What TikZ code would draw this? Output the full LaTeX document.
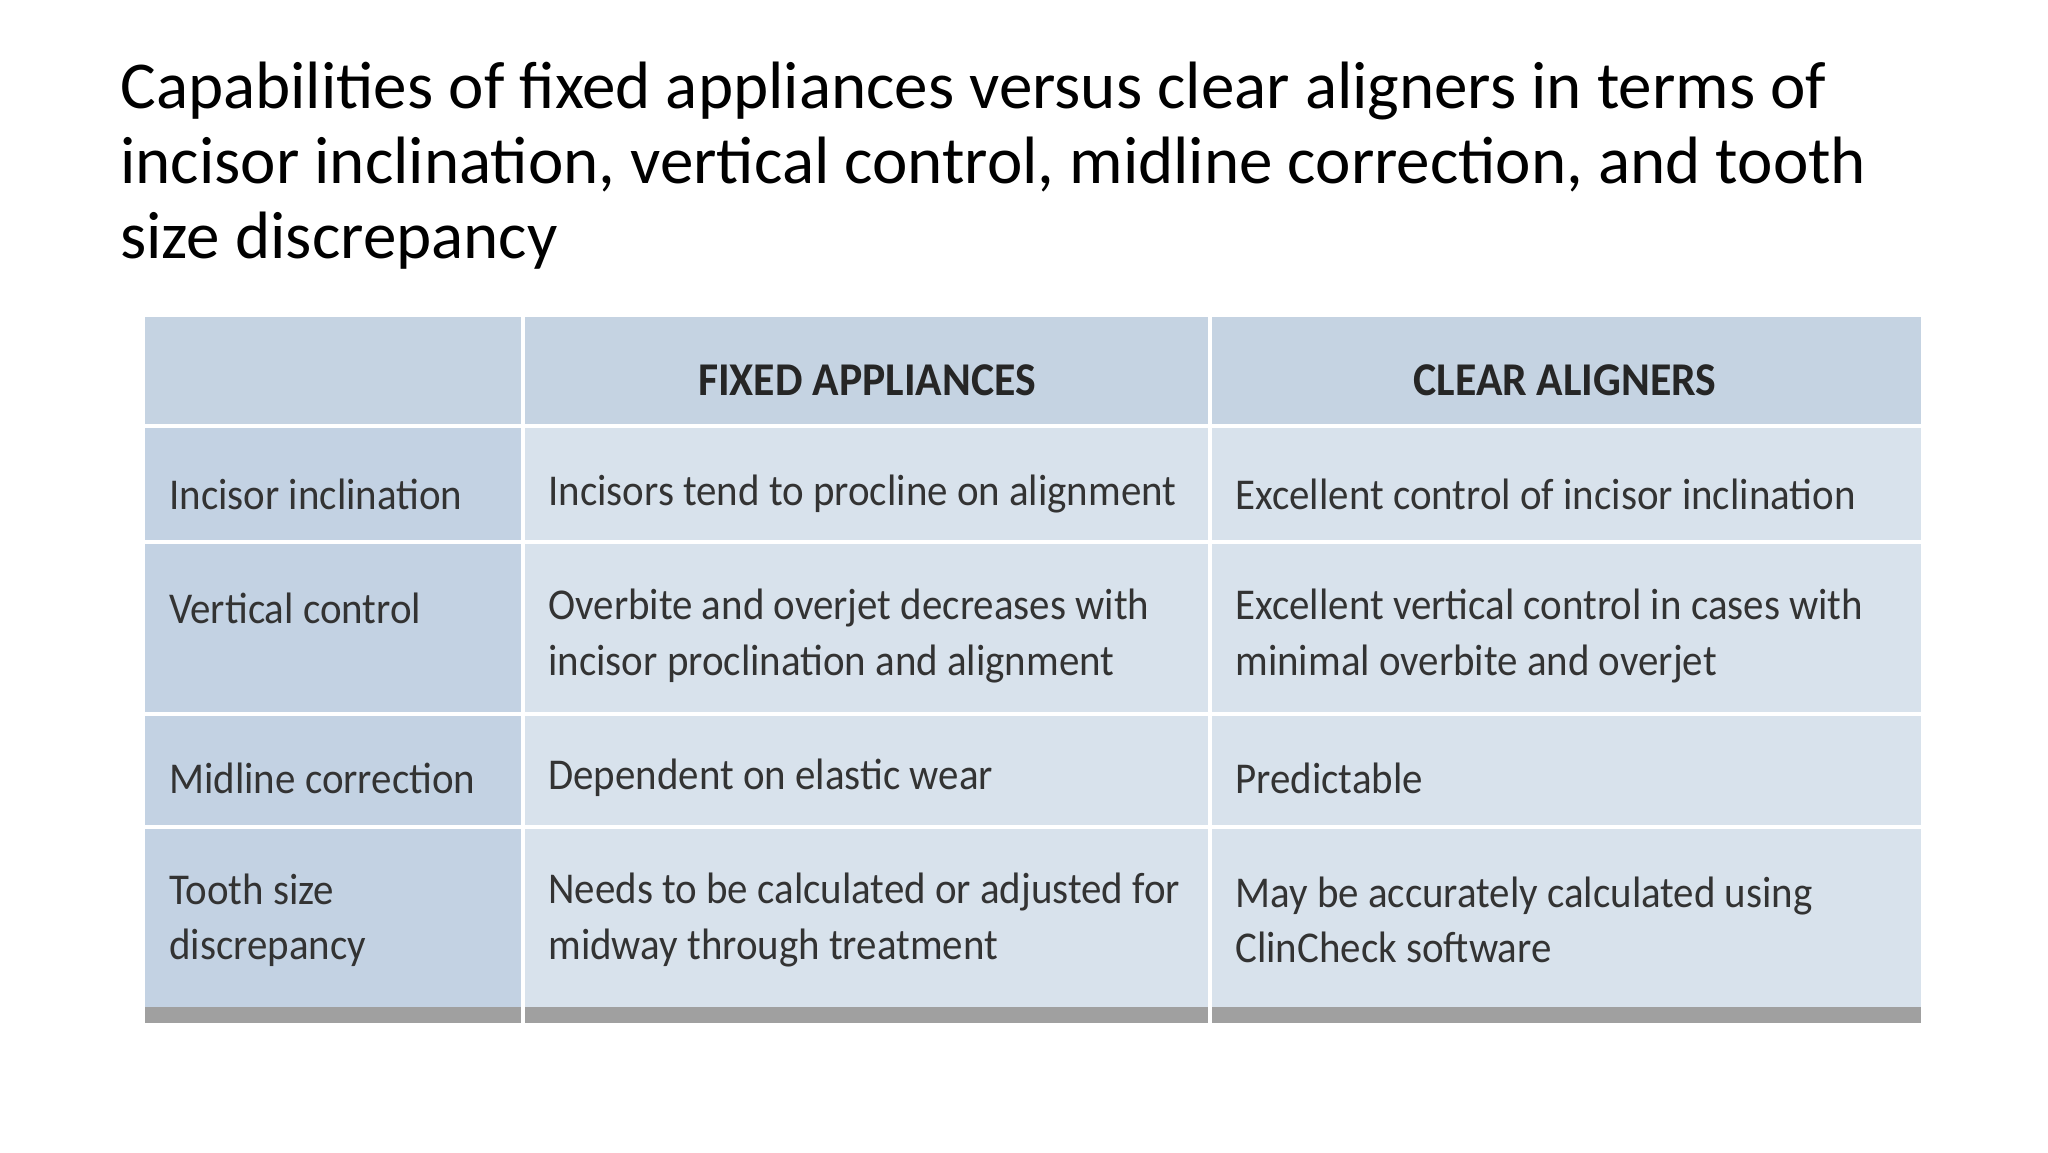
\documentclass[tikz,border=0pt]{standalone}
\usepackage{fontspec}
\setmainfont{Carlito}
\newfontfamily\tabfont[FakeStretch=0.93]{Carlito}
\definecolor{hdr}{HTML}{C5D3E2}
\definecolor{fc}{HTML}{C3D2E3}
\definecolor{bc}{HTML}{D8E2EC}
\definecolor{tx}{HTML}{333333}
\definecolor{bar}{HTML}{A0A0A0}
\begin{document}
\begin{tikzpicture}[x=1pt,y=-1pt,
  lbl/.style={anchor=west,align=left,font=\tabfont\fontsize{22}{27.7}\selectfont,text=tx,inner sep=0pt},
  hd/.style={anchor=center,font=\tabfont\bfseries\fontsize{23.5}{27}\selectfont,text=black!85,inner sep=0pt}]
\useasboundingbox (0,0) rectangle (1024,576);
\fill[white] (0,0) rectangle (1024,576);
\node[anchor=north west,align=left,font=\fontsize{33.5}{37.3}\selectfont,inner sep=0pt] (title) at (60,31)
 {Capabilities of fixed appliances versus clear aligners in terms of\\incisor inclination, vertical control, midline correction, and tooth\\size discrepancy};
% cells
\def\xa{72.5}\def\xb{261.5}\def\xc{605}\def\xd{960.5}
\foreach \ya/\yb [count=\i] in {158.5/212, 214/270, 272/356, 358/412.5, 414.5/503.5}{
  \ifnum\i=1
    \fill[hdr] (\xa,\ya) rectangle (\xb-1,\yb);
    \fill[hdr] (\xb+1,\ya) rectangle (\xc-1,\yb);
    \fill[hdr] (\xc+1,\ya) rectangle (\xd,\yb);
  \else
    \fill[fc] (\xa,\ya) rectangle (\xb-1,\yb);
    \fill[bc] (\xb+1,\ya) rectangle (\xc-1,\yb);
    \fill[bc] (\xc+1,\ya) rectangle (\xd,\yb);
  \fi
}
\fill[bar] (\xa,503.5) rectangle (\xd,511.5);
\fill[white] (\xb-1,503.5) rectangle (\xb+1,511.5);
\fill[white] (\xc-1,503.5) rectangle (\xc+1,511.5);
% header
\node[hd] (h1) at (433.5,190) {FIXED APPLIANCES};
\node[hd] (h2) at (782.5,190) {CLEAR ALIGNERS};
% rows
\node[lbl] (r1a) at (84.5,247) {Incisor inclination};
\node[lbl] (r1b) at (274,247) {Incisors tend to procline on alignment};
\node[lbl] (r1c) at (617.5,247) {Excellent control of incisor inclination};
\node[lbl] (r2a) at (84.5,304) {Vertical control};
\node[lbl] (r2b) at (274,318) {Overbite and overjet decreases with\\incisor proclination and alignment};
\node[lbl] (r2c) at (617.5,318) {Excellent vertical control in cases with\\minimal overbite and overjet};
\node[lbl] (r3a) at (84.5,389) {Midline correction};
\node[lbl] (r3b) at (274,389) {Dependent on elastic wear};
\node[lbl] (r3c) at (617.5,389) {Predictable};
\node[lbl] (r4a) at (84.5,460) {Tooth size\\discrepancy};
\node[lbl] (r4b) at (274,460) {Needs to be calculated or adjusted for\\midway through treatment};
\node[lbl] (r4c) at (617.5,460) {May be accurately calculated using\\ClinCheck software};
\end{tikzpicture}
\end{document}
